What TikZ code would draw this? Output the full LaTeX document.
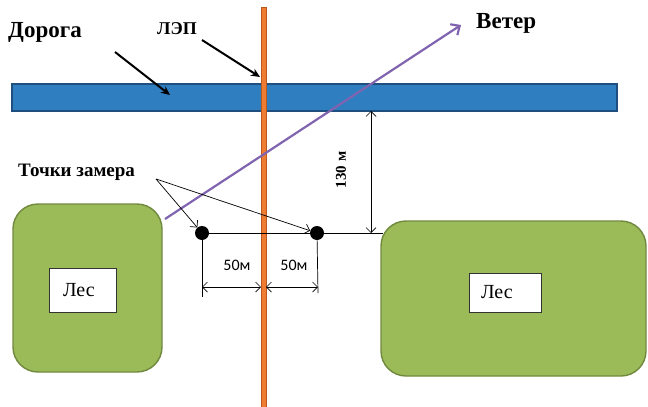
\documentclass[tikz,border=0pt]{standalone}
\usepackage{fontspec}
\setmainfont{Liberation Serif}
\newfontfamily\calibri{Carlito}
\usetikzlibrary{arrows.meta}

\definecolor{roadblue}{HTML}{2F7EC0}
\definecolor{roadedge}{HTML}{1F4F7F}
\definecolor{poleorange}{HTML}{EE7D33}
\definecolor{poleedge}{HTML}{B85A20}
\definecolor{forestgreen}{HTML}{9BBB59}
\definecolor{forestedge}{HTML}{71893F}
\definecolor{windpurple}{HTML}{8064B0}

\begin{document}
\begin{tikzpicture}[x=1pt,y=-1pt,
  barb/.tip={Straight Barb[length=5pt,width=10pt]},
  road/.style={draw=roadedge, line width=1.2pt, fill=roadblue, inner sep=0pt},
  pole/.style={draw=poleedge, line width=0.6pt, fill=poleorange, inner sep=0pt},
  forest/.style={draw=forestedge, line width=1.4pt, fill=forestgreen, rounded corners=25pt, inner sep=0pt},
  lesbox/.style={draw=black!80, line width=0.6pt, fill=white, inner sep=0pt, font=\fontsize{20}{22}\selectfont},
  title/.style={font=\bfseries\fontsize{23}{25}\selectfont, inner sep=0pt, anchor=base west},
  caption/.style={font=\bfseries\fontsize{19}{21}\selectfont, inner sep=0pt, anchor=base west},
  dot/.style={circle, fill=black, minimum size=14pt, inner sep=0pt},
  pointer/.style={line width=2pt, -{Stealth[length=9pt,width=8pt]}},
  fine/.style={line width=0.7pt},
  dimlabel/.style={font=\calibri\fontsize{16}{18}\selectfont, inner sep=0pt}
]
\useasboundingbox (0,0) rectangle (648,407);

% road and forests
\node[road, minimum width=605pt, minimum height=27pt] (road) at (314.5,97.5) {};
\node[forest, minimum width=149pt, minimum height=168pt] (forestL) at (87.5,288) {};
\node[forest, minimum width=265pt, minimum height=155pt] (forestR) at (513.5,298.5) {};
\node[lesbox, minimum width=67pt, minimum height=44pt, text width=55pt, align=left] (lesL) at (82.5,290) {\hspace*{8pt}Лес};
\node[lesbox, minimum width=72pt, minimum height=39pt, text width=60pt, align=left] (lesR) at (505,292.5) {\hspace*{6pt}Лес};

% power line
\node[pole, minimum width=5pt, minimum height=402pt] (pole) at (263.5,208) {};

% labels
\node[title] (doroga) at (8,37) {Дорога};
\node[caption, font=\bfseries\fontsize{18}{20}\selectfont] (lep) at (157,34) {ЛЭП};
\node[title] (veter) at (476,28) {Ветер};
\node[caption] (tochki) at (18,176) {Точки замера};
\node[font=\bfseries\fontsize{15}{17}\selectfont, inner sep=0pt, rotate=90] (h130) at (341,170) {130 м};
\node[dimlabel] (d50a) at (237,265) {50м};
\node[dimlabel] (d50b) at (294,265) {50м};

% measurement points
\node[dot] (p1) at (202,233) {};
\node[dot] (p2) at (317,233) {};

% helper coordinates
\coordinate (dorA) at (115,52);
\coordinate (dorB) at (170,95);
\coordinate (lepA) at (202,40);
\coordinate (lepB) at (260,77);
\coordinate (windA) at (165,219);
\coordinate (windB) at (461,25);
\coordinate (tzA) at (156,179);
\coordinate (baseR) at (383,233);
\coordinate (dimTop) at (371,111);
\coordinate (dimBot) at (371,233);
\coordinate (ext1) at (202,297);
\coordinate (ext2) at (318,293);
\coordinate (m1) at (202,287);
\coordinate (m2) at (261,287);
\coordinate (m3) at (266,287);
\coordinate (m4) at (318,287);

% pointers
\draw[pointer] (dorA) -- (dorB);
\draw[pointer] (lepA) -- (lepB);
\draw[windpurple, line width=2.2pt, -{Straight Barb[length=7pt,width=13pt]}] (windA) -- (windB);
\draw[fine, -barb] (tzA) -- (p1);
\draw[fine, -barb] (tzA) -- (p2);

% dimensions
\draw[fine] (p1.center) -- (baseR);
\draw[fine, barb-barb] (dimTop) -- (dimBot);
\draw[fine] (p1.center) -- (ext1);
\draw[fine] (p2.center) -- (ext2);
\draw[fine, barb-barb] (m1) -- (m2);
\draw[fine, barb-barb] (m3) -- (m4);
\end{tikzpicture}
\end{document}
